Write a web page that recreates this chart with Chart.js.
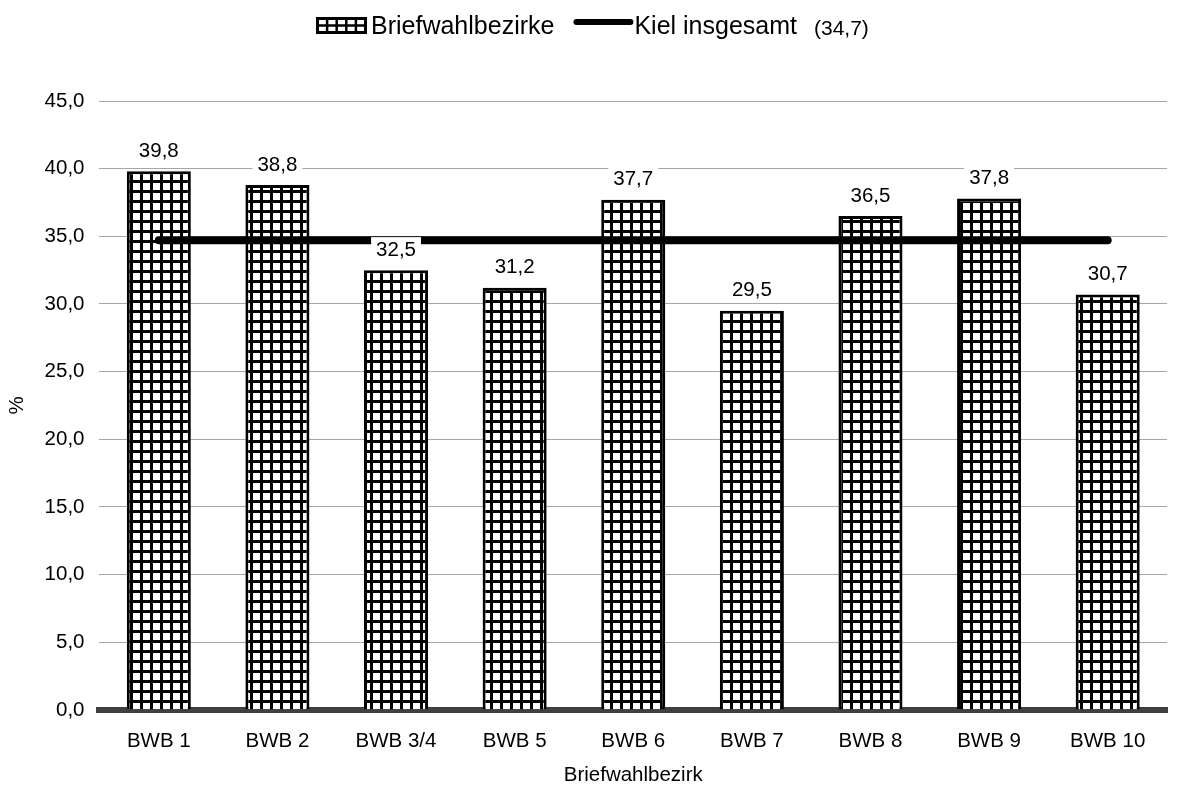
<!DOCTYPE html>
<html lang="de">
<head>
<meta charset="utf-8">
<title>Briefwahlbezirke</title>
<script src="https://cdn.jsdelivr.net/npm/chart.js@4/dist/chart.umd.min.js"></script>
<style>
  html, body { margin: 0; padding: 0; background: #fff; }
  #wrap { width: 1185px; height: 787px; position: relative; }
  canvas { background: #fff; }
</style>
</head>
<body>
<div id="wrap"><canvas id="grafico"></canvas></div>
<script>
// Daten
const bezirke = ['BWB 1', 'BWB 2', 'BWB 3/4', 'BWB 5', 'BWB 6', 'BWB 7', 'BWB 8', 'BWB 9', 'BWB 10'];
const briefwahlWerte = [39.8, 38.8, 32.5, 31.2, 37.7, 29.5, 36.5, 37.8, 30.7];
const kielWerte = [34.7, 34.7, 34.7, 34.7, 34.7, 34.7, 34.7, 34.7, 34.7];
const kielGesamt = 34.7;
const yMax = 45;
const ySchritt = 5;

const schrift = '"Liberation Sans", Arial, sans-serif';
const ctx = document.getElementById('grafico').getContext('2d');

// Karo-Muster fuer die Balken
function karoMuster(groesse, linie) {
  const c = document.createElement('canvas');
  c.width = groesse;
  c.height = groesse;
  const g = c.getContext('2d');
  g.fillStyle = '#fff';
  g.fillRect(0, 0, groesse, groesse);
  g.fillStyle = '#000';
  g.fillRect(0, 0, groesse, linie);
  g.fillRect(0, 0, linie, groesse);
  return ctx.createPattern(c, 'repeat');
}
const muster = karoMuster(10, 3);

function komma(v, stellen) {
  return v.toFixed(stellen).replace('.', ',');
}

// Werte ueber den Balken, mit weissem Hintergrund
const wertePlugin = {
  id: 'werte',
  afterDatasetsDraw(chart) {
    const meta = chart.getDatasetMeta(0);
    const c = chart.ctx;
    c.save();
    c.font = '20.5px ' + schrift;
    c.textAlign = 'center';
    c.textBaseline = 'middle';
    meta.data.forEach((bar, i) => {
      const txt = komma(briefwahlWerte[i], 1);
      const y = bar.y - 21;
      const w = c.measureText(txt).width + 10;
      c.fillStyle = '#fff';
      c.fillRect(bar.x - w / 2, y - 12, w, 24);
      c.fillStyle = '#000';
      c.fillText(txt, bar.x, y + 1);
    });
    c.restore();
  }
};

// Legende von Hand gezeichnet
const legendePlugin = {
  id: 'legende',
  afterDraw(chart) {
    const c = chart.ctx;
    c.save();
    c.textBaseline = 'alphabetic';
    c.font = '25px ' + schrift;
    const t1 = 'Briefwahlbezirke';
    const t2 = 'Kiel insgesamt';
    const w1 = c.measureText(t1).width;
    const w2 = c.measureText(t2).width;
    c.font = '21px ' + schrift;
    const t3 = '(' + komma(kielGesamt, 1) + ')';
    const w3 = c.measureText(t3).width;
    const boxW = 51, boxH = 17, linW = 60;
    const gesamt = boxW + 4 + w1 + 19 + linW + 1 + w2 + 17 + w3;
    let x = Math.round(chart.width / 2 - gesamt / 2);
    const yb = 34;

    // kleines Karo-Symbol, 5 x 2 Felder
    c.fillStyle = '#fff';
    c.fillRect(x, 17, boxW, boxH);
    c.strokeStyle = '#000';
    c.lineWidth = 3;
    c.strokeRect(x + 1.5, 18.5, boxW - 3, boxH - 3);
    c.lineWidth = 2.5;
    c.beginPath();
    for (let k = 1; k < 5; k++) {
      const xx = x + 1.5 + k * (boxW - 3) / 5;
      c.moveTo(xx, 18.5);
      c.lineTo(xx, 17 + boxH - 1.5);
    }
    c.moveTo(x, 17 + boxH / 2);
    c.lineTo(x + boxW, 17 + boxH / 2);
    c.stroke();
    x += boxW + 4;

    c.fillStyle = '#000';
    c.font = '25px ' + schrift;
    c.fillText(t1, x, yb);
    x += w1 + 19;

    c.beginPath();
    c.lineCap = 'round';
    c.lineWidth = 6;
    c.moveTo(x + 3, 22);
    c.lineTo(x + linW - 3, 22);
    c.stroke();
    x += linW + 1;

    c.fillText(t2, x, yb);
    x += w2 + 17;
    c.font = '21px ' + schrift;
    c.fillText(t3, x, yb + 1);
    c.restore();
  }
};

const grafico = new Chart(ctx, {
  type: 'bar',
  data: {
    labels: bezirke,
    datasets: [
      {
        type: 'bar',
        label: 'Briefwahlbezirke',
        data: briefwahlWerte,
        backgroundColor: muster,
        borderColor: '#000',
        borderWidth: 3,
        borderSkipped: 'bottom',
        barPercentage: 0.54,
        categoryPercentage: 1,
        order: 2
      },
      {
        type: 'line',
        label: 'Kiel insgesamt',
        data: kielWerte,
        borderColor: '#000',
        borderWidth: 8,
        borderCapStyle: 'round',
        pointRadius: 0,
        fill: false,
        order: 1
      }
    ]
  },
  options: {
    responsive: true,
    maintainAspectRatio: false,
    animation: false,
    layout: { padding: { top: 101, right: 18, left: 5, bottom: 0 } },
    plugins: {
      legend: { display: false },
      tooltip: { enabled: false }
    },
    scales: {
      x: {
        grid: { display: false },
        border: { display: true, color: '#404040', width: 6 },
        ticks: { color: '#000', font: { family: schrift, size: 20.5 }, padding: 11 },
        title: {
          display: true,
          text: 'Briefwahlbezirk',
          color: '#000',
          font: { family: schrift, size: 20.5, lineHeight: 1.1 },
          padding: { top: 0, bottom: 0 }
        }
      },
      y: {
        min: 0,
        max: yMax,
        ticks: {
          stepSize: ySchritt,
          color: '#000',
          font: { family: schrift, size: 20.5 },
          padding: 15,
          callback: (v) => komma(v, 1)
        },
        grid: { color: '#a6a6a6', lineWidth: 1, drawTicks: false },
        border: { display: false },
        title: {
          display: true,
          text: '%',
          color: '#000',
          font: { family: schrift, size: 20.5 },
          padding: { top: 0, bottom: 0 }
        }
      }
    }
  },
  plugins: [wertePlugin, legendePlugin]
});
</script>
</body>
</html>
